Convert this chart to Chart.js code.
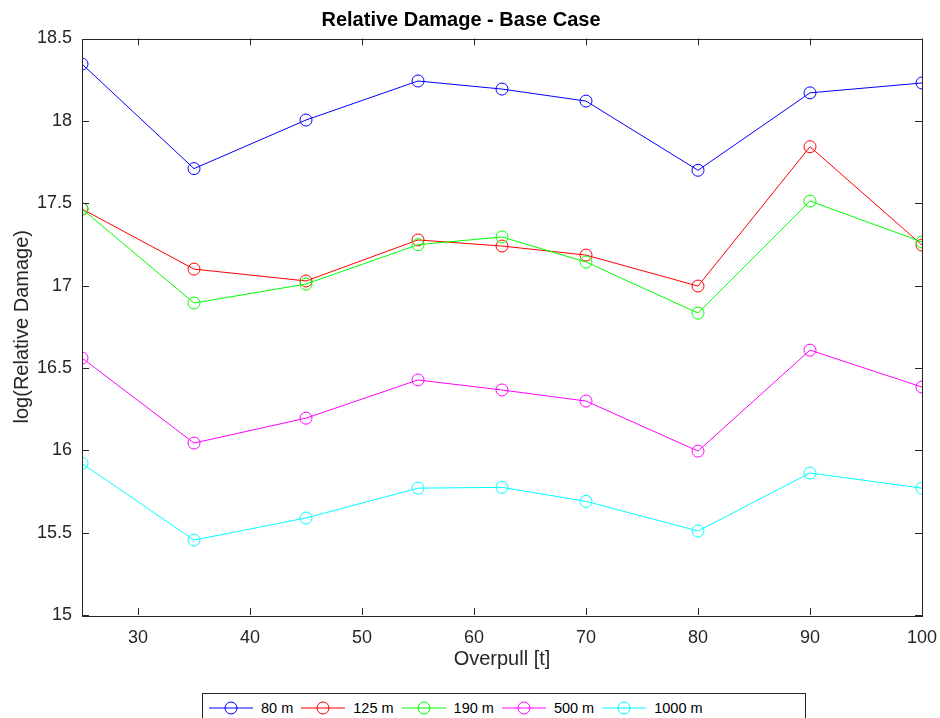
<!DOCTYPE html>
<html>
<head>
<meta charset="utf-8">
<script src="https://cdn.jsdelivr.net/npm/chart.js@4/dist/chart.umd.min.js"></script>
<style>
  body { margin: 0; background: #fff; font-family: "Liberation Sans", Arial, sans-serif; }
  #wrap { position: relative; width: 940px; height: 718px; overflow: hidden; }
  #legend {
    position: absolute; left: 202px; top: 693px; width: 604px; height: 40px;
    border: 1px solid #262626; box-sizing: border-box; background: #fff;
    display: flex; align-items: flex-start; padding: 4px 0 0 6px;
    font-size: 14.5px; color: #000;
  }
  .item { display: flex; align-items: center; margin-right: 8px; height: 20px; }
  .item svg { margin-right: 8px; }
</style>
</head>
<body>
<div id="wrap">
  <canvas id="c" width="940" height="718"></canvas>
  <div id="legend"></div>
</div>
<script>
const overpull = [25, 35, 45, 55, 62.5, 70, 80, 90, 100];
const depth80 = [18.345, 17.71, 18.005, 18.242, 18.193, 18.12, 17.70, 18.17, 18.23];
const depth125 = [17.465, 17.10, 17.028, 17.277, 17.24, 17.185, 16.997, 17.843, 17.246];
const depth190 = [17.465, 16.894, 17.009, 17.248, 17.295, 17.143, 16.833, 17.513, 17.265];
const depth500 = [16.56, 16.044, 16.195, 16.427, 16.366, 16.299, 15.995, 16.608, 16.384];
const depth1000 = [15.92, 15.455, 15.589, 15.77, 15.775, 15.69, 15.51, 15.862, 15.77];
const seriesLabels = ['80 m', '125 m', '190 m', '500 m', '1000 m'];
const seriesColors = ['#0000ff', '#ff0000', '#00ff00', '#ff00ff', '#00ffff'];
const xTicks = [30, 40, 50, 60, 70, 80, 90, 100];
const yTicks = [15, 15.5, 16, 16.5, 17, 17.5, 18, 18.5];

const FONT = '"Liberation Sans", Arial, sans-serif';
const AXIS = '#262626';

const allSeries = [depth80, depth125, depth190, depth500, depth1000];
const datasets = allSeries.map((vals, i) => ({
  label: seriesLabels[i],
  data: overpull.map((x, j) => ({ x: x, y: vals[j] })),
  borderColor: seriesColors[i],
  backgroundColor: 'rgba(0,0,0,0)',
  borderWidth: 1,
  pointRadius: 6,
  pointBorderWidth: 1,
  pointBackgroundColor: 'rgba(0,0,0,0)',
  pointBorderColor: seriesColors[i],
  showLine: true,
  tension: 0,
  order: allSeries.length - i
}));

// box around plot with inward ticks on all four sides
const boxPlugin = {
  id: 'box',
  afterDatasetsDraw(chart) {
    const { ctx, chartArea: a, scales } = chart;
    ctx.save();
    ctx.strokeStyle = AXIS;
    ctx.lineWidth = 1;
    ctx.beginPath();
    const len = 7;
    xTicks.forEach(v => {
      const px = Math.round(scales.x.getPixelForValue(v)) + 0.5;
      ctx.moveTo(px, a.bottom); ctx.lineTo(px, a.bottom - len);
      ctx.moveTo(px, a.top); ctx.lineTo(px, a.top + len);
    });
    yTicks.forEach(v => {
      const py = Math.round(scales.y.getPixelForValue(v)) + 0.5;
      ctx.moveTo(a.left, py); ctx.lineTo(a.left + len, py);
      ctx.moveTo(a.right, py); ctx.lineTo(a.right - len, py);
    });
    ctx.stroke();
    ctx.strokeRect(Math.round(a.left) + 0.5, Math.round(a.top) + 0.5,
      Math.round(a.right - a.left), Math.round(a.bottom - a.top));
    ctx.restore();
  }
};

new Chart(document.getElementById('c'), {
  type: 'scatter',
  data: { datasets },
  options: {
    responsive: false,
    animation: false,
    layout: { padding: { left: 0, right: 18, top: 0, bottom: 43 } },
    plugins: {
      legend: { display: false },
      tooltip: { enabled: false },
      title: {
        display: true,
        text: 'Relative Damage - Base Case',
        color: '#000',
        font: { family: FONT, size: 20, weight: 'bold', lineHeight: 1.2 },
        padding: { top: 8.5, bottom: 6 }
      }
    },
    scales: {
      x: {
        type: 'linear',
        min: 25,
        max: 100,
        afterBuildTicks: s => { s.ticks = xTicks.map(v => ({ value: v })); },
        afterFit: s => { s.height = 60; s.paddingLeft = 0; s.paddingRight = 0; },
        grid: { display: false, drawTicks: false },
        border: { display: false },
        ticks: { color: AXIS, padding: 12, font: { family: FONT, size: 18 } },
        title: {
          display: true, text: 'Overpull [t]', color: AXIS,
          font: { family: FONT, size: 20 }, padding: { top: 0, bottom: 4 }
        }
      },
      y: {
        type: 'linear',
        min: 15,
        max: 18.5,
        afterBuildTicks: s => { s.ticks = yTicks.map(v => ({ value: v })); },
        afterFit: s => { s.width = 82; s.paddingTop = 0; s.paddingBottom = 0; },
        grid: { display: false, drawTicks: false },
        border: { display: false },
        ticks: {
          color: AXIS, padding: 10, font: { family: FONT, size: 18 },
          callback: v => String(v)
        },
        title: {
          display: true, text: 'log(Relative Damage)', color: AXIS,
          font: { family: FONT, size: 20 }, padding: { top: 10, bottom: 0 }
        }
      }
    }
  },
  plugins: [boxPlugin]
});

// legend built from the same labels/colours
const leg = document.getElementById('legend');
seriesLabels.forEach((lab, i) => {
  const c = seriesColors[i];
  const d = document.createElement('div');
  d.className = 'item';
  d.innerHTML = '<svg width="44" height="16"><line x1="0" y1="8" x2="44" y2="8" stroke="' + c +
    '" stroke-width="1"/><circle cx="22" cy="8" r="6" fill="none" stroke="' + c +
    '" stroke-width="1"/></svg><span>' + lab + '</span>';
  leg.appendChild(d);
});
</script>
</body>
</html>
